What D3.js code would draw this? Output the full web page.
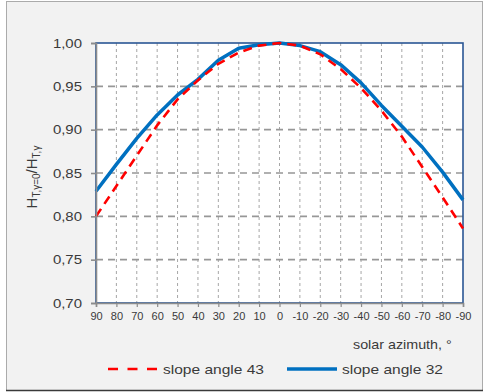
<!DOCTYPE html>
<html>
<head>
<meta charset="utf-8">
<script src="https://cdn.jsdelivr.net/npm/d3@7"></script>
<style>
  html, body { margin: 0; padding: 0; background: #fff; }
  svg { display: block; font-family: "Liberation Sans", Arial, sans-serif; }
</style>
</head>
<body>
<div id="chart"></div>
<script>
// Relative irradiation vs solar azimuth, two slope angles

const azimuth = [90, 80, 70, 60, 50, 40, 30, 20, 10, 0, -10, -20, -30, -40, -50, -60, -70, -80, -90];
const slope43 = [0.800, 0.835, 0.870, 0.905, 0.935, 0.957, 0.976, 0.989, 0.997, 1.000,
                 0.997, 0.987, 0.970, 0.948, 0.922, 0.892, 0.857, 0.822, 0.786];
const slope32 = [0.829, 0.860, 0.890, 0.917, 0.940, 0.958, 0.980, 0.994, 0.998, 1.000,
                 0.997, 0.990, 0.975, 0.954, 0.928, 0.904, 0.880, 0.851, 0.819];
const yTicks = [0.70, 0.75, 0.80, 0.85, 0.90, 0.95, 1.00];
const seriesNames = ['slope angle 43', 'slope angle 32'];

const W = 484, H = 392;
const plot = { left: 96, right: 463, top: 43, bottom: 303 };

const svg = d3.select('#chart').append('svg')
  .attr('width', W).attr('height', H);

// widen Arial-like glyphs a bit, the source picture is stretched
function stretch(sel, k) {
  sel.each(function () {
    const w = this.getComputedTextLength();
    this.setAttribute('textLength', w * k);
    this.setAttribute('lengthAdjust', 'spacingAndGlyphs');
  });
}

// outer panel
svg.append('rect')
  .attr('x', 6.5).attr('y', 1.5).attr('width', 476).attr('height', 389)
  .attr('fill', '#f2f2f2').attr('stroke', '#ababab');
svg.append('line')
  .attr('x1', 6).attr('x2', 483).attr('y1', 390.5).attr('y2', 390.5)
  .attr('stroke', '#3a3a3a').attr('stroke-width', 1.5);

const x = d3.scalePoint().domain(azimuth).range([plot.left, plot.right]);
const y = d3.scaleLinear().domain([0.70, 1.00]).range([plot.bottom, plot.top]);

const locale = d3.formatLocale({ decimal: ',', thousands: ' ', grouping: [3], currency: ['', ''] });
const fmt = locale.format('.2f');

// plot area
svg.append('rect')
  .attr('x', plot.left).attr('y', plot.top)
  .attr('width', plot.right - plot.left).attr('height', plot.bottom - plot.top)
  .attr('fill', '#fff');

// vertical grid (short dashes)
svg.append('g').selectAll('line')
  .data(azimuth.slice(1, -1))
  .join('line')
  .attr('x1', d => x(d)).attr('x2', d => x(d))
  .attr('y1', plot.top).attr('y2', plot.bottom)
  .attr('stroke', '#a6a6a6').attr('stroke-width', 1)
  .attr('stroke-dasharray', '3,3');

// horizontal grid (long dashes)
svg.append('g').selectAll('line')
  .data(yTicks.slice(1, -1))
  .join('line')
  .attr('x1', plot.left).attr('x2', plot.right)
  .attr('y1', d => y(d)).attr('y2', d => y(d))
  .attr('stroke', '#979797').attr('stroke-width', 1.6)
  .attr('stroke-dasharray', '7,5');

// plot border, dark blue
svg.append('rect')
  .attr('x', plot.left).attr('y', plot.top)
  .attr('width', plot.right - plot.left).attr('height', plot.bottom - plot.top)
  .attr('fill', 'none').attr('stroke', '#2a5694').attr('stroke-width', 1.6);

// series
const line = d3.line().x((d, i) => x(azimuth[i])).y(d => y(d));

svg.append('path')
  .datum(slope32)
  .attr('d', line)
  .attr('fill', 'none')
  .attr('stroke', '#0070c0').attr('stroke-width', 3.5)
  .attr('stroke-linejoin', 'round');

svg.append('path')
  .datum(slope43)
  .attr('d', line)
  .attr('fill', 'none')
  .attr('stroke', '#ff0000').attr('stroke-width', 2.6)
  .attr('stroke-dasharray', '9,6');

// axes
const yAxis = svg.append('g')
  .attr('transform', `translate(${plot.left},0)`)
  .call(d3.axisLeft(y).tickValues(yTicks).tickFormat(fmt).tickSize(5).tickPadding(9));
yAxis.select('.domain').attr('stroke', '#8c8c8c').attr('stroke-width', 1.6);
yAxis.selectAll('.tick line').attr('stroke', '#8c8c8c').attr('stroke-width', 1.6);
yAxis.selectAll('.tick text')
  .attr('font-size', 13).attr('fill', '#3a3a3a')
  .attr('font-family', '"Liberation Sans", Arial, sans-serif');
stretch(yAxis.selectAll('.tick text'), 1.15);

const xAxis = svg.append('g')
  .attr('transform', `translate(0,${plot.bottom})`)
  .call(d3.axisBottom(x).tickSize(4).tickPadding(5));
xAxis.select('.domain').attr('stroke', '#8c8c8c').attr('stroke-width', 1.6);
xAxis.selectAll('.tick line').attr('stroke', '#8c8c8c').attr('stroke-width', 1.2);
xAxis.selectAll('.tick text')
  .attr('font-size', 11).attr('fill', '#3a3a3a')
  .attr('font-family', '"Liberation Sans", Arial, sans-serif');

// axis titles
const yTitle = svg.append('text')
  .attr('transform', 'translate(37,177) rotate(-90)')
  .attr('text-anchor', 'middle')
  .attr('font-size', 15).attr('fill', '#3a3a3a');
yTitle.append('tspan').text('H');
yTitle.append('tspan').attr('font-size', 10).attr('dy', 3).text('T,γ=0');
yTitle.append('tspan').attr('dy', -3).text('/H');
yTitle.append('tspan').attr('font-size', 10).attr('dy', 3).text('T,γ');

const xTitle = svg.append('text')
  .attr('x', 353).attr('y', 349)
  .attr('font-size', 13).attr('fill', '#3a3a3a')
  .text('solar azimuth, °');
stretch(xTitle, 1.1);

// legend
const legend = svg.append('g');
legend.append('line')
  .attr('x1', 108).attr('x2', 157).attr('y1', 369).attr('y2', 369)
  .attr('stroke', '#ff0000').attr('stroke-width', 2.6)
  .attr('stroke-dasharray', '10,9.5');
const l1 = legend.append('text')
  .attr('x', 163).attr('y', 374)
  .attr('font-size', 13.5).attr('fill', '#3a3a3a')
  .text(seriesNames[0]);
stretch(l1, 1.15);

legend.append('line')
  .attr('x1', 287).attr('x2', 337).attr('y1', 369).attr('y2', 369)
  .attr('stroke', '#0070c0').attr('stroke-width', 3.5);
const l2 = legend.append('text')
  .attr('x', 342).attr('y', 374)
  .attr('font-size', 13.5).attr('fill', '#3a3a3a')
  .text(seriesNames[1]);
stretch(l2, 1.15);
</script>
</body>
</html>
